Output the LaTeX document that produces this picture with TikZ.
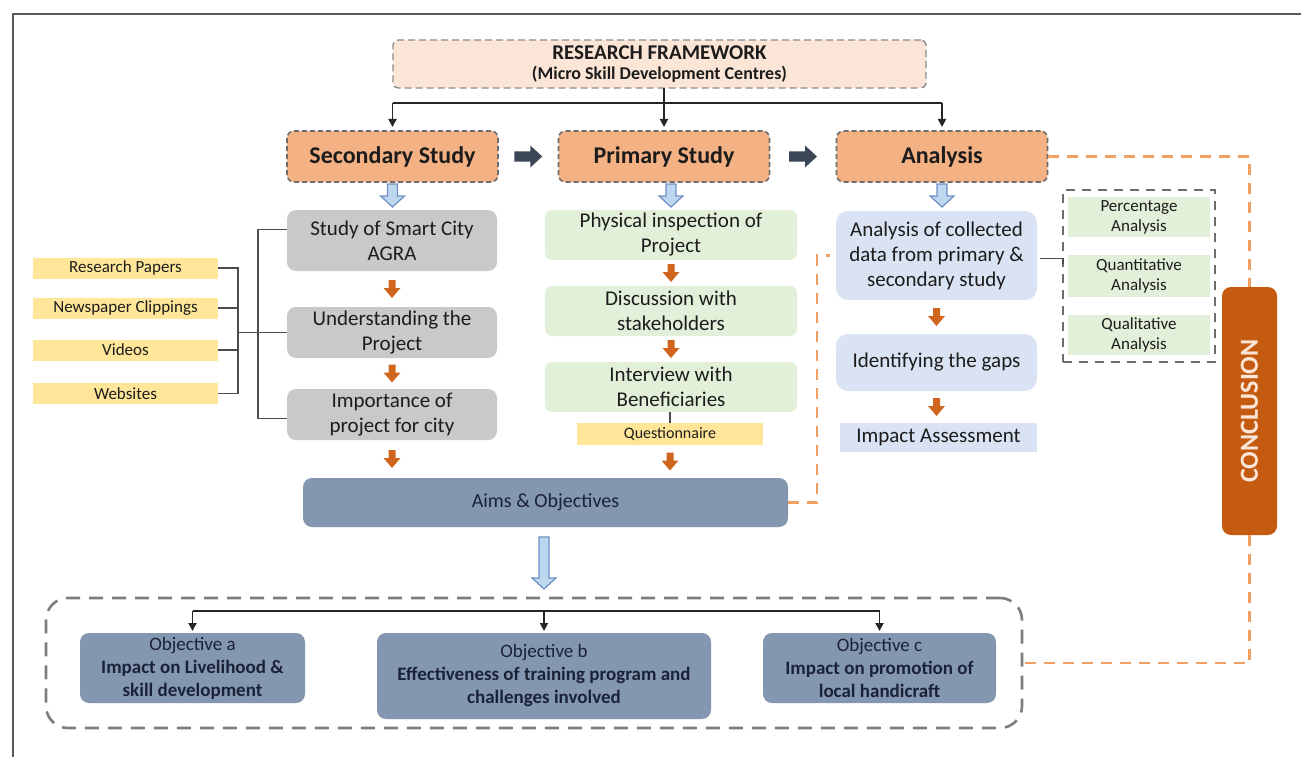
\documentclass[tikz,border=0pt]{standalone}
\usepackage{fontspec}
\setmainfont{Carlito}
\usetikzlibrary{calc,arrows.meta}
\newcommand\fsz[2]{\fontsize{#1}{#2}\selectfont}
\definecolor{rfpink}{HTML}{FBE5D6}
\definecolor{studyor}{HTML}{F4B183}
\definecolor{dashgray}{HTML}{6E6E6E}
\definecolor{boxgray}{HTML}{C9C9C9}
\definecolor{yel}{HTML}{FFE699}
\definecolor{grn}{HTML}{E2F0D9}
\definecolor{lav}{HTML}{DAE3F3}
\definecolor{slateb}{HTML}{8497B0}
\definecolor{darkslate}{HTML}{3B4656}
\definecolor{orarrow}{HTML}{D0661E}
\definecolor{ordash}{HTML}{F0A062}
\definecolor{conclc}{HTML}{C55A11}
\definecolor{conctext}{HTML}{FBE5D6}
\definecolor{hblue}{HTML}{BDD7EE}
\definecolor{hbluedraw}{HTML}{6F8FC6}
\definecolor{navy}{HTML}{1A2238}
\definecolor{textc}{HTML}{1C1C1C}
\tikzset{
 pics/hdown/.style={code={\draw[fill=hblue, draw=hbluedraw, line width=1.2pt, line join=miter] (-5,0) -- (5,0) -- (5,#1-11) -- (12,#1-11) -- (0,#1) -- (-12,#1-11) -- (-5,#1-11) -- cycle;}},
 pics/odown/.style={code={\fill[orarrow] (-3.5,-9) -- (3.5,-9) -- (3.5,-1) -- (8.5,-1) -- (0,9) -- (-8.5,-1) -- (-3.5,-1) -- cycle;}},
 pics/dright/.style={code={\fill[darkslate] (-14,-5) -- (2,-5) -- (2,-11) -- (14,0) -- (2,11) -- (2,5) -- (-14,5) -- cycle;}},
}
\begin{document}
\begin{tikzpicture}[x=1pt,y=-1pt,
  every node/.style={inner sep=0pt, outer sep=0pt, align=center, text=textc},
  rfbox/.style={draw=dashgray!80, dash pattern=on 7pt off 4pt, line width=1.4pt, fill=rfpink, rounded corners=5pt},
  studybox/.style={draw=dashgray, dash pattern=on 5pt off 3pt, line width=1.6pt, fill=studyor, rounded corners=7pt, minimum width=211pt, minimum height=51pt, font=\fsz{24}{28}\bfseries},
  graybox/.style={fill=boxgray, rounded corners=9pt, minimum width=210pt, font=\fsz{21}{25}},
  greenbox/.style={fill=grn, rounded corners=7pt, minimum width=252pt, minimum height=50pt, font=\fsz{21}{25}},
  lavbox/.style={fill=lav, rounded corners=12pt, minimum width=201pt, font=\fsz{21}{25}},
  yelbox/.style={fill=yel, minimum width=185pt, minimum height=21pt, font=\fsz{17}{20}},
  anbox/.style={fill=grn, minimum width=142pt, font=\fsz{17}{20}},
  objbox/.style={fill=slateb, rounded corners=9pt, text=navy, font=\fsz{19}{23}},
  conn/.style={line width=1.8pt, draw=black!85},
  tipconn/.style={conn, -{Triangle[width=8pt,length=8pt]}},
  brack/.style={line width=1.5pt, draw=black!70},
  ordashed/.style={line width=2.8pt, draw=ordash, dash pattern=on 11pt off 8pt},
]
\useasboundingbox (0,0) rectangle (1301,757);
\fill[white] (0,0) rectangle (1301,757);
\draw[line width=1.5pt, draw=black!65] (13,757) -- (13,14) -- (1301,14);

% top
\node[rfbox, minimum width=533pt, minimum height=48pt, font=\fsz{21}{20}\bfseries] (rf) at (659.5,64)
  {RESEARCH FRAMEWORK\\{\fsz{18}{20}\bfseries (Micro Skill Development Centres)}};
\node[studybox] (sec) at (392.5,156.5) {Secondary Study};
\node[studybox] (pri) at (664,156.5) {Primary Study};
\node[studybox] (ana) at (942,156.5) {Analysis};

\coordinate (hly) at (0,103);
\draw[conn] (sec.north |- hly) -- (ana.north |- hly);
\draw[conn] (rf.south -| pri.north) -- (pri.north |- hly);
\draw[tipconn] (sec.north |- hly) -- ($(sec.north)+(0,-4)$);
\draw[tipconn] (pri.north |- hly) -- ($(pri.north)+(0,-4)$);
\draw[tipconn] (ana.north |- hly) -- ($(ana.north)+(0,-4)$);

\pic at ($(sec.east)!0.5!(pri.west)$) {dright};
\pic at ($(pri.east)!0.5!(ana.west)$) {dright};

% secondary column
\node[graybox, minimum height=61pt] (g1) at (392,240.5) {Study of Smart City\\AGRA};
\node[graybox, minimum height=51pt] (g2) at (392,332.5) {Understanding the\\Project};
\node[graybox, minimum height=51pt] (g3) at (392,414.5) {Importance of\\project for city};

\node[yelbox] (y1) at (125.5,268) {Research Papers};
\node[yelbox] (y2) at (125.5,308) {Newspaper Clippings};
\node[yelbox] (y3) at (125.5,350) {Videos};
\node[yelbox] (y4) at (125.5,393.5) {Websites};

\draw[brack] (y1.east) -- ++(20,0) coordinate (bt) -- (bt |- y4.east) -- (y4.east);
\draw[brack] (y2.east) -- (bt |- y2.east);
\draw[brack] (y3.east) -- (bt |- y3.east);
\draw[brack] (bt |- g2.west) -- (g2.west);
\coordinate (bv) at (258,0);
\coordinate (s1) at ($(g1.west)+(0,-11)$);
\coordinate (s3) at ($(g3.west)+(0,4)$);
\draw[brack] (s1) -- (s1 -| bv) -- (s3 -| bv) -- (s3);

% primary column
\node[greenbox] (p1) at (671,235) {Physical inspection of\\Project};
\node[greenbox] (p2) at (671,311) {Discussion with\\stakeholders};
\node[greenbox] (p3) at (671,387) {Interview with\\Beneficiaries};
\node[yelbox, minimum width=186pt, minimum height=22pt, font=\fsz{16}{20}] (q) at (670,434) {Questionnaire};
\draw[line width=1.2pt, draw=black!70] (q.north |- p3.south) -- (q.north);

% aims
\node[objbox, minimum width=485pt, minimum height=49pt, font=\fsz{20}{24}] (aims) at (545.5,502.5) {Aims \& Objectives};

% analysis column
\node[lavbox, minimum height=89pt] (a1) at (936.5,255.5) {Analysis of collected\\data from primary \&\\secondary study};
\node[lavbox, minimum height=57pt] (a2) at (936.5,362.5) {Identifying the gaps};
\node[fill=lav, minimum width=197pt, minimum height=29pt, font=\fsz{21}{25}] (a3) at (938.5,437.5) {Impact Assessment};

\node[draw=dashgray, line width=2.4pt, dash pattern=on 9pt off 7pt, minimum width=152pt, minimum height=172pt] (db) at (1139,276) {};
\node[anbox, minimum height=40pt] (pa) at (1139,217) {Percentage\\Analysis};
\node[anbox, minimum height=42pt] (qa) at (1139,276) {Quantitative\\Analysis};
\node[anbox, minimum height=40pt] (qla) at (1139,335) {Qualitative\\Analysis};
\draw[line width=1.3pt, draw=black!70] ($(a1.east)+(3,3)$) -- ($(db.west |- a1.east)+(0,3)$) -- ++(0,5);

% blue hollow arrows
\pic at ($(sec.south)+(0,2)$) {hdown=23};
\pic at ($(p1.north |- pri.south)+(0,2)$) {hdown=23};
\pic at ($(ana.south)+(0,2)$) {hdown=23};

% orange arrows
\pic at ($(g1.south)!0.5!(g2.north)$) {odown};
\pic at ($(g2.south)!0.5!(g3.north)$) {odown};
\pic at ($(g3.south)!0.5!(g3.south |- aims.north)$) {odown};
\pic at ($(p1.south)!0.5!(p2.north)$) {odown};
\pic at ($(p2.south)!0.5!(p3.north)$) {odown};
\pic at ($(q.south)!0.5!(q.south |- aims.north)$) {odown};
\pic at ($(a1.south)!0.5!(a2.north)$) {odown};
\pic at ($(a2.south)!0.5!(a2.south |- a3.north)$) {odown};

% conclusion
\node[fill=conclc, rounded corners=9pt, rotate=90, minimum width=248pt, minimum height=55pt, text=conctext, font=\fsz{26}{28}\bfseries] (concl) at (1249.5,411) {CONCLUSION};

% objectives
\node[draw=dashgray!90, line width=2.6pt, dash pattern=on 14pt off 9pt, rounded corners=22pt, minimum width=976pt, minimum height=130pt] (objframe) at (534,663) {};
\node[objbox, minimum width=225pt, minimum height=70pt] (oa) at (192.5,668)
  {{\mdseries Objective a}\\\textbf{Impact on Livelihood \&}\\\textbf{skill development}};
\node[objbox, minimum width=334pt, minimum height=86pt] (ob) at (544,676)
  {{\mdseries Objective b}\\\textbf{Effectiveness of training program and}\\\textbf{challenges involved}};
\node[objbox, minimum width=233pt, minimum height=70pt] (oc) at (879.5,668)
  {{\mdseries Objective c}\\\textbf{Impact on promotion of}\\\textbf{local handicraft}};

\pic at ($(ob.north |- aims.south)+(0,10)$) {hdown=52};
\coordinate (oly) at (0,611);
\draw[conn] (oa.north |- oly) -- (oc.north |- oly);
\draw[tipconn] (oa.north |- oly) -- ($(oa.north)+(0,-2)$);
\draw[tipconn] (ob.north |- oly) -- ($(ob.north)+(0,-2)$);
\draw[tipconn] (oc.north |- oly) -- ($(oc.north)+(0,-2)$);

% orange dashed links
\draw[ordashed] (aims.east) -- ++(29,0) |- ($(a1.west)+(-6,0)$);
\draw[ordashed] (ana.east) -- (concl.east |- ana.east) -- (concl.east);
\draw[ordashed] (concl.west) -- (concl.west |- objframe.east) -- (objframe.east);
\end{tikzpicture}
\end{document}
